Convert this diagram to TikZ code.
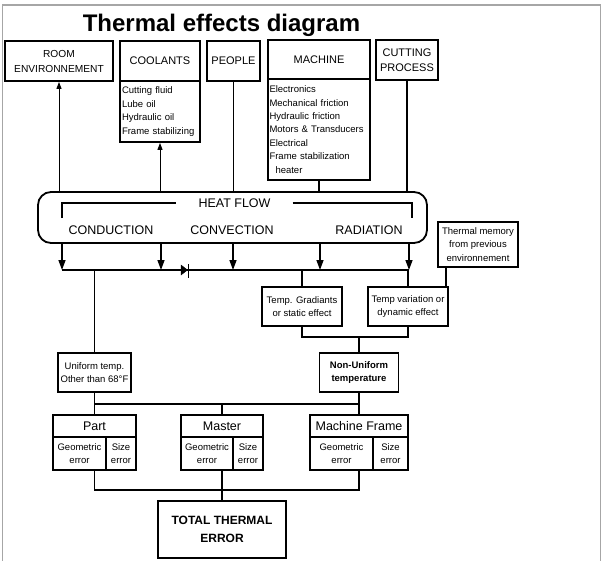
\documentclass[tikz,border=0pt]{standalone}
\usepackage{fontspec}
\setmainfont{Liberation Sans}
\usetikzlibrary{arrows.meta}

\newcommand{\fsz}[2]{\fontsize{#1}{#2}\selectfont}

\tikzset{
  box/.style={draw, line width=1.8pt, inner sep=2pt, align=center},
  listbox/.style={draw, line width=1.8pt, inner sep=2pt, align=left, font=\fsz{9.5}{13.5}},
  cell/.style={draw, line width=1.8pt, inner sep=1pt, align=center, font=\fsz{9.5}{13.5}},
  flow/.style={line width=1.4pt},
  down/.style={line width=1.4pt, -{Triangle[length=10pt,width=7pt]}},
  up/.style={line width=1pt, -{Triangle[length=7pt,width=5pt]}},
}

\begin{document}
\begin{tikzpicture}[x=1pt,y=-1pt]
\useasboundingbox (0,0) rectangle (604,560);

\draw[gray!70, line width=1.5pt] (2.5,570) -- (2.5,5) -- (600.5,5) -- (600.5,570);

\node[font=\bfseries\fsz{24}{28}, anchor=base] (title) at (221.5,31) {Thermal effects diagram};

% sources
\node[box, font=\fsz{10.2}{15}, minimum width=108pt, minimum height=40pt] (room) at (59,61) {ROOM\\ENVIRONNEMENT};
\node[box, font=\fsz{11}{15}, minimum width=80pt, minimum height=40pt] (coolants) at (160,61) {COOLANTS};
\node[listbox, text width=76pt, minimum height=61pt] (coollist) at (160,111.5) {Cutting fluid\\Lube oil\\Hydraulic oil\\Frame stabilizing};
\node[box, font=\fsz{11}{15}, minimum width=53pt, minimum height=40pt] (people) at (233.5,61) {PEOPLE};
\node[box, font=\fsz{11}{15}, minimum width=102pt, minimum height=39pt] (machine) at (319,59.5) {MACHINE};
\node[listbox, inner sep=1.5pt, text width=99pt, minimum height=101pt, font=\fsz{9.5}{13.4}] (machlist) at (319,129.5) {Electronics\\Mechanical friction\\Hydraulic friction\\Motors \& Transducers\\Electrical\\Frame stabilization\\\hspace*{6pt}heater};
\node[box, font=\fsz{11}{15}, minimum width=62pt, minimum height=40pt] (cutting) at (407,60) {CUTTING\\PROCESS};

% heat flow
\node[draw, line width=1.8pt, rounded corners=13pt, minimum width=389pt, minimum height=51pt] (heat) at (232.5,217.5) {};
\node[font=\fsz{12.5}{15}, inner xsep=22pt] (hf) at (234.5,203) {HEAT FLOW};
\node[font=\fsz{12.5}{15}] (cond) at (111,230) {CONDUCTION};
\node[font=\fsz{12.5}{15}] (conv) at (232,230) {CONVECTION};
\node[font=\fsz{12.5}{15}] (rad) at (369,230) {RADIATION};
\draw[flow] (62,218) |- (hf.west);
\draw[flow] (hf.east) -| (412,218);

\draw[up] (room.south |- heat.north) -- (room.south);
\draw[up] (coollist.south |- heat.north) -- (coollist.south);
\draw[flow] (people.south) -- (people.south |- heat.north);
\draw[flow] (machlist.south) -- (machlist.south |- heat.north);
\draw[flow] (cutting.south) -- (cutting.south |- heat.north);

% bus
\coordinate (b1) at (62,270);
\coordinate (b2) at (161,270);
\coordinate (b3) at (233,270);
\coordinate (b4) at (320,270);
\coordinate (b5) at (409,270);
\draw[flow] (b1) -- (b5);
\foreach \b in {b1,b2,b3,b4,b5}
  \draw[down] (heat.south -| \b) -- (\b);
\draw[fill=black] (181,265) -- (187.5,270) -- (181,275) -- cycle;
\draw[line width=1.4pt] (188.5,264) -- (188.5,278);

% effects
\node[cell, font=\fsz{9.5}{13.3}, minimum width=80pt, minimum height=45pt] (memory) at (478,244.5) {Thermal memory\\from previous\\environnement};
\node[cell, minimum width=80pt, minimum height=39pt] (grad) at (302,306.5) {Temp. Gradiants\\or static effect};
\node[cell, minimum width=80pt, minimum height=39pt] (tvar) at (408,306.5) {Temp variation or\\dynamic effect};
\node[cell, minimum width=73pt, minimum height=39pt] (uniform) at (94.5,372.5) {Uniform temp.\\Other than 68\textdegree F};
\node[cell, font=\bfseries\fsz{9.5}{13.3}, minimum width=79pt, minimum height=39pt] (nonunif) at (359,372.5) {Non-Uniform\\temperature};

\draw[flow] (uniform.north |- b1) -- (uniform.north);
\draw[flow] (grad.north |- b1) -- (grad.north);
\draw[flow] (tvar.north |- b5) -- (tvar.north);
\draw[flow] ([xshift=-32pt]memory.south) -- ([xshift=-32pt]memory.south |- tvar.north);
\coordinate (nj) at (359,337);
\draw[flow] (grad.south) |- (nj) -| (tvar.south);
\draw[flow] (nj) -- (nonunif.north);

% errors
\node[cell, font=\fsz{12.5}{15}, minimum width=83pt, minimum height=22pt] (part) at (94.5,426) {Part};
\node[cell, minimum width=53pt, minimum height=33pt] (partgeo) at (79.5,453.5) {Geometric\\error};
\node[cell, minimum width=30pt, minimum height=33pt] (partsize) at (121,453.5) {Size\\error};
\node[cell, font=\fsz{12.5}{15}, minimum width=82pt, minimum height=22pt] (master) at (222,426) {Master};
\node[cell, minimum width=52pt, minimum height=33pt] (mastergeo) at (207,453.5) {Geometric\\error};
\node[cell, minimum width=30pt, minimum height=33pt] (mastersize) at (248,453.5) {Size\\error};
\node[cell, font=\fsz{12.5}{15}, minimum width=98pt, minimum height=22pt] (mframe) at (359,426) {Machine Frame};
\node[cell, minimum width=63pt, minimum height=33pt] (mframegeo) at (341.5,453.5) {Geometric\\error};
\node[cell, minimum width=35pt, minimum height=33pt] (mframesize) at (390.5,453.5) {Size\\error};

\coordinate (lb) at (222,404);
\draw[flow] (uniform.south) -- (part.north);
\draw[flow] (nonunif.south) -- (mframe.north);
\draw[flow] (part.north |- lb) -- (mframe.north |- lb);
\draw[flow] (lb) -- (master.north);

\node[box, font=\bfseries\fsz{12}{18}, minimum width=128pt, minimum height=57pt] (total) at (222,529.5) {TOTAL THERMAL\\ERROR};

\coordinate (tb) at (222,490);
\draw[flow] (part.south |- partgeo.south) -- (part.south |- tb) -- (mframe.south |- tb) -- (mframe.south |- mframegeo.south);
\draw[flow] (master.south |- mastergeo.south) -- (total.north);

\end{tikzpicture}
\end{document}
